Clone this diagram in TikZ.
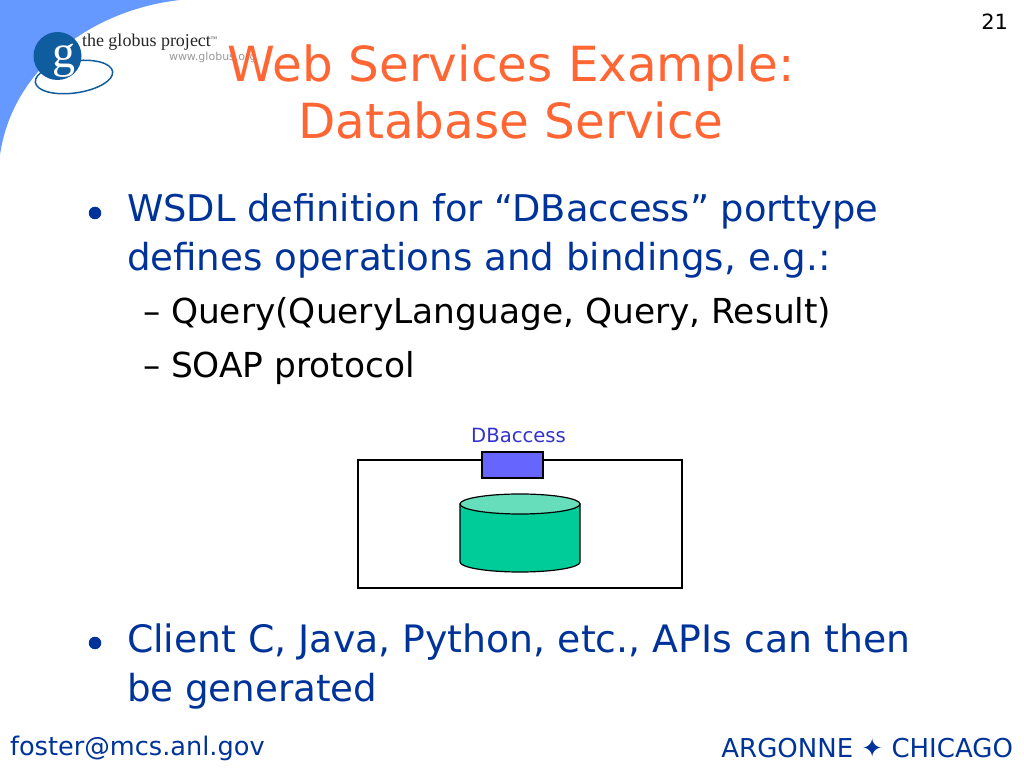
\documentclass[tikz,border=0pt]{standalone}
\usepackage{fontspec}
\setmainfont{DejaVu Sans}
\newfontfamily\logofont{Liberation Serif}
\usepackage{xcolor}
\definecolor{cornerblue}{HTML}{6699FF}
\definecolor{logoblue}{HTML}{0F5C9E}
\definecolor{titleorange}{HTML}{FF6633}
\definecolor{bodyblue}{HTML}{003399}
\definecolor{labelblue}{HTML}{3333CC}
\definecolor{portblue}{HTML}{6666FF}
\definecolor{dbgreen}{HTML}{00CC99}
\definecolor{dbtop}{HTML}{66DDBB}
\tikzset{
  txt/.style={anchor=base west,inner sep=0pt,outer sep=0pt},
  titletxt/.style={anchor=base,inner sep=0pt,text=titleorange,font=\fontsize{48.4}{48}\selectfont},
  bodytxt/.style={txt,text=bodyblue,font=\fontsize{37.2}{37}\selectfont},
  subtxt/.style={txt,text=black,font=\fontsize{34.4}{34}\selectfont},
  bulletdot/.style={circle,fill=bodyblue,inner sep=0pt,minimum size=12.5pt},
}
\begin{document}
\begin{tikzpicture}[x=1pt,y=1pt]
  \useasboundingbox (0,0) rectangle (1024,768);
  % corner and logo
  \fill[cornerblue] (0,613) .. controls (12,698) and (90,758) .. (180,768) -- (0,768) -- cycle;
  \draw[logoblue,line width=1.5pt,rotate around={8:(74,691)}] (74,691) ellipse (39 and 16);
  \node[circle,fill=logoblue,minimum size=48pt,inner sep=0pt] (logoball) at (57.5,712) {};
  \node[anchor=base,inner sep=0pt,text=white,font=\logofont\fontsize{46}{46}\selectfont] (logog) at (64,700) {g};
  \node[txt,font=\logofont\fontsize{18}{18}\selectfont,text=black!85] (logoname) at (82,721) {the globus project\raisebox{7pt}{\fontsize{4}{4}\selectfont TM}};
  \node[txt,font=\fontsize{11}{11}\selectfont,text=black!40] (logourl) at (169,707) {www.globus.org};
  % page number and title
  \node[txt,anchor=base east,font=\fontsize{21}{21}\selectfont] (pageno) at (1008,738) {21};
  \node[titletxt] (title1) at (511,686) {Web Services Example:};
  \node[titletxt] (title2) at (511,629) {Database Service};
  % bullets
  \node[bulletdot] (dot1) at (95,555) {};
  \node[bodytxt,font=\fontsize{36.8}{37}\selectfont] (b1a) at (127,546) {WSDL definition for “DBaccess” porttype};
  \node[bodytxt] (b1b) at (127,497) {defines operations and bindings, e.g.:};
  \node[subtxt] (d1) at (143,444) {–};
  \node[subtxt] (s1) at (171,444) {Query(QueryLanguage, Query, Result)};
  \node[subtxt] (d2) at (143,390) {–};
  \node[subtxt] (s2) at (171,390) {SOAP protocol};
  \node[bulletdot] (dot2) at (95,125) {};
  \node[bodytxt,font=\fontsize{37.8}{37}\selectfont] (b2a) at (127,116) {Client C, Java, Python, etc., APIs can then};
  \node[bodytxt] (b2b) at (127,67) {be generated};
  % service box
  \node[draw,line width=1.1pt,minimum width=324pt,minimum height=128pt,inner sep=0pt] (svcbox) at (520,244) {};
  \node[draw,line width=1.1pt,fill=portblue,minimum width=61pt,minimum height=26pt,inner sep=0pt] (port) at (512.5,303) {};
  \node[anchor=base,inner sep=0pt,text=labelblue,font=\fontsize{19.6}{20}\selectfont] (portlabel) at (518.5,325) {DBaccess};
  % database
  \draw[line width=1.2pt,fill=dbgreen] (460,264) -- (460,206) arc (180:360:60 and 10) -- (580,264) -- cycle;
  \draw[line width=1.2pt,fill=dbtop] (520,264) ellipse (60 and 10);
  % footer
  \node[txt,text=bodyblue,font=\fontsize{25.6}{26}\selectfont] (mail) at (10,13) {foster@mcs.anl.gov};
  \node[txt,anchor=base east,text=bodyblue,font=\fontsize{26}{26}\selectfont] (lab) at (1013,11) {ARGONNE ✦ CHICAGO};
\end{tikzpicture}
\end{document}
